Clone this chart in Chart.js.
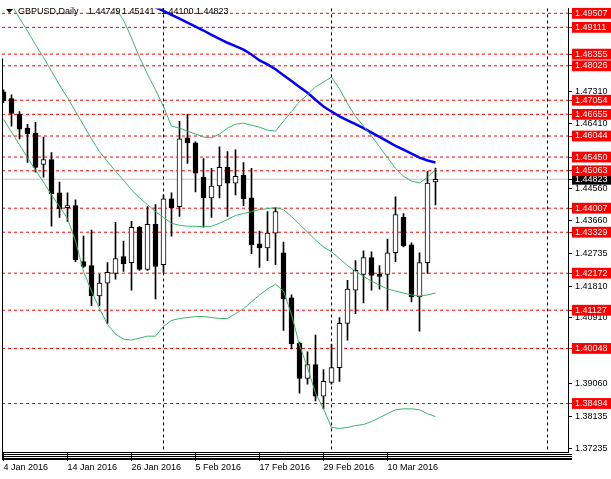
<!DOCTYPE html>
<html lang="en">
<head>
  <meta charset="UTF-8" />
  <title>GBPUSD Daily</title>
  <script src="https://cdn.jsdelivr.net/npm/chart.js"></script>
  <style>
    body { margin: 0; background: #fff; }
    canvas { display: block; }
  </style>
</head>
<body>
  <canvas id="chart" width="611" height="479"></canvas>
  <script>
    // daily bars, 4 Jan 2016 .. 18 Mar 2016, one per trading day
    const openP = [
      1.47291, 1.47098, 1.46654, 1.46267, 1.46128, 1.45242, 1.45380, 1.44438, 1.44023, 1.44078,
      1.42499, 1.42389, 1.41530, 1.41890, 1.42167, 1.42638, 1.42472, 1.43469, 1.42278, 1.43552,
      1.42416, 1.44272, 1.44051, 1.45990, 1.45851, 1.44882, 1.44300, 1.44632, 1.45159, 1.44715,
      1.44937, 1.44300, 1.42998, 1.42887, 1.43303, 1.42749, 1.41474, 1.40200, 1.39203, 1.39591,
      1.38704, 1.39092, 1.39508, 1.40754, 1.41696, 1.42139, 1.42610, 1.42139, 1.42139, 1.42749,
      1.43746, 1.42970, 1.41502, 1.42472, 1.44749
    ];
    const highP = [
      1.47347, 1.47208, 1.46737, 1.46377, 1.46433, 1.46017, 1.45574, 1.44743, 1.44438, 1.44244,
      1.43220, 1.43386, 1.42139, 1.42472, 1.43607, 1.43081, 1.43635, 1.43497, 1.44051, 1.44106,
      1.44383, 1.44438, 1.46460, 1.46654, 1.45879, 1.45408, 1.45131, 1.45740, 1.45602, 1.45657,
      1.45297, 1.45131, 1.43358, 1.43912, 1.44023, 1.43053, 1.41558, 1.40228, 1.39951, 1.40422,
      1.39452, 1.40173, 1.40920, 1.41973, 1.42527, 1.42804, 1.42776, 1.42389, 1.43136, 1.44328,
      1.43857, 1.43026, 1.42749, 1.45048, 1.45141
    ];
    const lowP = [
      1.46987, 1.46322, 1.45962, 1.45297, 1.45020, 1.44882, 1.43497, 1.43746, 1.43635, 1.42499,
      1.42333, 1.41253, 1.41253, 1.40754, 1.42001, 1.42222, 1.41696, 1.42250, 1.42250, 1.41447,
      1.42195, 1.43220, 1.43774, 1.45269, 1.44466, 1.43469, 1.43746, 1.44300, 1.43774, 1.44383,
      1.44078, 1.42721, 1.42333, 1.42527, 1.42416, 1.40560, 1.40034, 1.38788, 1.39037, 1.38566,
      1.38344, 1.39037, 1.39120, 1.40283, 1.41031, 1.41336, 1.41696, 1.41724, 1.41142, 1.42499,
      1.42915, 1.41364, 1.40533, 1.42167, 1.44100
    ];
    const closeP = [
      1.47042, 1.46682, 1.46239, 1.46100, 1.45159, 1.45380, 1.44411, 1.43995, 1.44078, 1.42555,
      1.42361, 1.41530, 1.41890, 1.42195, 1.42582, 1.42444, 1.43469, 1.42278, 1.43552, 1.42361,
      1.44272, 1.44023, 1.45962, 1.45851, 1.44992, 1.44300, 1.44632, 1.45159, 1.44715, 1.44909,
      1.44272, 1.42970, 1.42887, 1.43303, 1.43912, 1.41447, 1.40173, 1.39203, 1.39591, 1.38704,
      1.39120, 1.39508, 1.40754, 1.41724, 1.42250, 1.42610, 1.42112, 1.42084, 1.42749, 1.43829,
      1.42943, 1.41502, 1.42472, 1.44715, 1.44823
    ];

    // Bollinger bands
    const bbUpper = [
      1.53718, 1.53358, 1.52942, 1.52582, 1.52167, 1.51779, 1.51363, 1.50920, 1.50532, 1.50394,
      1.50477, 1.50255, 1.50034, 1.49923, 1.49646, 1.49314, 1.48815, 1.48261, 1.47790, 1.47347,
      1.46876, 1.46322, 1.46267, 1.46183, 1.46100, 1.46017, 1.45990, 1.46100, 1.46267, 1.46377,
      1.46405, 1.46350, 1.46294, 1.46211, 1.46183, 1.46460, 1.46737, 1.47014, 1.47208, 1.47430,
      1.47568, 1.47707, 1.47375, 1.46959, 1.46599, 1.46322, 1.46045, 1.45740, 1.45436, 1.45131,
      1.44909, 1.44771, 1.44715, 1.44882, 1.45103
    ];
    const bbMiddle = [
      1.50117, 1.49757, 1.49369, 1.49009, 1.48621, 1.48261, 1.47873, 1.47485, 1.47125, 1.46737,
      1.46350, 1.45962, 1.45602, 1.45325, 1.45048, 1.44798, 1.44521, 1.44300, 1.44106, 1.43912,
      1.43746, 1.43580, 1.43524, 1.43497, 1.43497, 1.43483, 1.43497, 1.43580, 1.43690, 1.43801,
      1.43857, 1.43912, 1.43967, 1.43995, 1.44023, 1.43967, 1.43774, 1.43552, 1.43330, 1.43109,
      1.42915, 1.42776, 1.42582, 1.42389, 1.42222, 1.42084, 1.41945, 1.41835, 1.41724, 1.41668,
      1.41613, 1.41558, 1.41530, 1.41558, 1.41613
    ];
    const bbLower = [
      1.46516, 1.46156, 1.45796, 1.45436, 1.45075, 1.44743, 1.44383, 1.44051, 1.43718, 1.43081,
      1.42222, 1.41668, 1.41170, 1.40727, 1.40450, 1.40311, 1.40283, 1.40339, 1.40394, 1.40394,
      1.40671, 1.40837, 1.40893, 1.40920, 1.40948, 1.40948, 1.40920, 1.40893, 1.40893, 1.41031,
      1.41170, 1.41364, 1.41558, 1.41724, 1.41862, 1.41668, 1.41004, 1.40145, 1.39508, 1.38788,
      1.38344, 1.37818, 1.37790, 1.37818, 1.37873, 1.37901, 1.37984, 1.38095, 1.38206, 1.38317,
      1.38344, 1.38344, 1.38317, 1.38206, 1.38123
    ];

    // slow moving average (blue), only the part that is on screen
    const maSlow = [
      null, null, null, null, null, null, null, null, null, null,
      null, null, null, null, null, null, null, null, 1.49812, 1.49673,
      1.49576, 1.49465, 1.49355, 1.49244, 1.49133, 1.49022, 1.48898, 1.48787, 1.48676, 1.48579,
      1.48482, 1.48344, 1.48177, 1.48067, 1.47928, 1.47762, 1.47596, 1.47429, 1.47263, 1.47069,
      1.46875, 1.46737, 1.46598, 1.46488, 1.46377, 1.46266, 1.46141, 1.46017, 1.45892, 1.45767,
      1.45657, 1.45546, 1.45435, 1.45352, 1.45296
    ];

    // horizontal levels (red dashed) and plain price ticks
    const levels = [1.49507, 1.49111, 1.48355, 1.48026, 1.47054, 1.46655, 1.46044, 1.45450,
                    1.45063, 1.44007, 1.43329, 1.42172, 1.41127, 1.40048, 1.38494];
    const priceTicks = [1.47310, 1.46410, 1.44560, 1.43660, 1.42735, 1.41810, 1.40910,
                        1.39060, 1.38135, 1.37235];
    const lastPrice = 1.44823;

    const dateTicks = [0, 8, 16, 24, 32, 40, 48];
    const dateLabels = ['4 Jan 2016', '14 Jan 2016', '26 Jan 2016', '5 Feb 2016',
                        '17 Feb 2016', '29 Feb 2016', '10 Mar 2016'];
    const gridIdx = [19.94, 41.06, 68.06];

    const xMin = -0.1875, xMax = 70.5625;
    const yMin = 1.37125, yMax = 1.49646;

    const FONT = { family: 'Liberation Sans', size: 9 };
    const idx = openP.map((_, i) => i);

    const series = (arr) => idx.filter(i => arr[i] !== null).map(i => ({ x: i, y: arr[i] }));
    const hline = (v) => [{ x: xMin, y: v }, { x: xMax, y: v }];

    const datasets = [];

    // candle bodies on top, wicks under them
    datasets.push({
      type: 'bar',
      data: idx.map(i => ({ x: i, y: [openP[i], closeP[i]] })),
      backgroundColor: idx.map(i => closeP[i] >= openP[i] ? '#ffffff' : '#000000'),
      borderColor: '#000000',
      borderWidth: 1,
      borderSkipped: false,
      barThickness: 5,
      minBarLength: 1,
      grouped: false,
      order: 1
    });
    datasets.push({
      type: 'bar',
      data: idx.map(i => ({ x: i, y: [lowP[i], highP[i]] })),
      backgroundColor: '#000000',
      borderWidth: 0,
      barThickness: 1,
      grouped: false,
      order: 2
    });

    // bands and MA
    [bbUpper, bbMiddle, bbLower].forEach(arr => {
      datasets.push({
        type: 'line', data: series(arr), borderColor: '#3cb371', borderWidth: 1,
        pointRadius: 0, tension: 0, order: 0
      });
    });
    datasets.push({
      type: 'line', data: series(maSlow), borderColor: '#0000ff', borderWidth: 2.5,
      pointRadius: 0, tension: 0, order: 0
    });

    // level lines behind everything
    levels.forEach(v => {
      datasets.push({
        type: 'line', data: hline(v), borderColor: '#ff0000', borderWidth: 1,
        borderDash: [3, 3], pointRadius: 0, order: 5
      });
    });
    datasets.push({
      type: 'line', data: hline(lastPrice), borderColor: '#c0c0c0', borderWidth: 1,
      pointRadius: 0, order: 5
    });

    const isLevel = v => levels.some(l => Math.abs(l - v) < 1e-7);
    const isLast = v => Math.abs(v - lastPrice) < 1e-7;

    // header, left edge and the bottom rules
    const frame = {
      id: 'frame',
      afterDraw(chart) {
        const { ctx, chartArea: a } = chart;
        ctx.save();
        ctx.strokeStyle = '#000';
        ctx.lineWidth = 1;
        ctx.beginPath();
        ctx.moveTo(a.left + 0.5, a.top + 50);
        ctx.lineTo(a.left + 0.5, a.bottom + 7);
        ctx.moveTo(a.left, a.bottom + 2.5);
        ctx.lineTo(a.right + 4, a.bottom + 2.5);
        ctx.moveTo(a.left, a.bottom + 4.5);
        ctx.lineTo(a.right + 4, a.bottom + 4.5);
        ctx.stroke();
        ctx.lineWidth = 2;
        ctx.beginPath();
        ctx.moveTo(a.left, a.bottom + 7);
        ctx.lineTo(a.right + 4, a.bottom + 7);
        ctx.stroke();

        // title line
        ctx.fillStyle = '#000';
        ctx.beginPath();
        ctx.moveTo(6, 9);
        ctx.lineTo(13, 9);
        ctx.lineTo(9.5, 13);
        ctx.closePath();
        ctx.fill();
        ctx.font = '9px "Liberation Sans"';
        ctx.textBaseline = 'alphabetic';
        const last = openP.length - 1;
        ctx.fillText('GBPUSD,Daily', 18, 14);
        ctx.fillText(openP[last].toFixed(5), 88, 14);
        ctx.fillText(highP[last].toFixed(5), 122, 14);
        ctx.fillText(lowP[last].toFixed(5), 161, 14);
        ctx.fillText(closeP[last].toFixed(5), 196, 14);
        ctx.restore();
      }
    };

    new Chart(document.getElementById('chart'), {
      type: 'bar',
      data: { datasets },
      options: {
        responsive: false,
        animation: false,
        layout: { padding: { left: 2, top: 0, right: 0, bottom: 0 } },
        plugins: {
          legend: { display: false },
          tooltip: { enabled: false },
          title: { display: false }
        },
        scales: {
          x: {
            type: 'linear',
            position: 'bottom',
            min: xMin,
            max: xMax,
            offset: false,
            afterBuildTicks: axis => { axis.ticks = dateTicks.map(v => ({ value: v })); },
            afterFit: axis => { axis.height = 27; },
            ticks: {
              autoSkip: false,
              maxRotation: 0,
              align: 'start',
              padding: 1,
              color: '#000',
              font: FONT,
              callback: (v, i) => dateLabels[i]
            },
            grid: { drawOnChartArea: false, offset: false, tickLength: 9, tickColor: '#000', color: '#000' },
            border: { display: true, color: '#000' }
          },
          xg: {
            type: 'linear',
            position: 'bottom',
            min: xMin,
            max: xMax,
            offset: false,
            afterBuildTicks: axis => { axis.ticks = gridIdx.map(v => ({ value: v })); },
            afterFit: axis => { axis.height = 0; },
            ticks: { display: false },
            grid: { color: '#000', lineWidth: 1, drawTicks: false, offset: false },
            border: { display: false, dash: [3, 3] }
          },
          y: {
            type: 'linear',
            position: 'right',
            min: yMin,
            max: yMax,
            afterBuildTicks: axis => {
              axis.ticks = [...levels, ...priceTicks, lastPrice]
                .sort((a, b) => a - b)
                .map(v => ({ value: v }));
            },
            afterFit: axis => { axis.width = 43; },
            ticks: {
              autoSkip: false,
              padding: 3,
              font: FONT,
              callback: v => v.toFixed(5),
              color: c => (isLevel(c.tick.value) || isLast(c.tick.value)) ? '#ffffff' : '#000000',
              showLabelBackdrop: c => isLevel(c.tick.value) || isLast(c.tick.value),
              backdropColor: c => isLast(c.tick.value) ? '#000000' : '#ff0000',
              backdropPadding: { left: 3, right: 8, top: 0, bottom: 0 }
            },
            grid: {
              drawOnChartArea: false,
              tickLength: 4,
              tickColor: c => isLevel(c.tick.value) ? '#ff0000' : '#000000'
            },
            border: { display: true, color: '#000' }
          }
        }
      },
      plugins: [frame]
    });
  </script>
</body>
</html>
